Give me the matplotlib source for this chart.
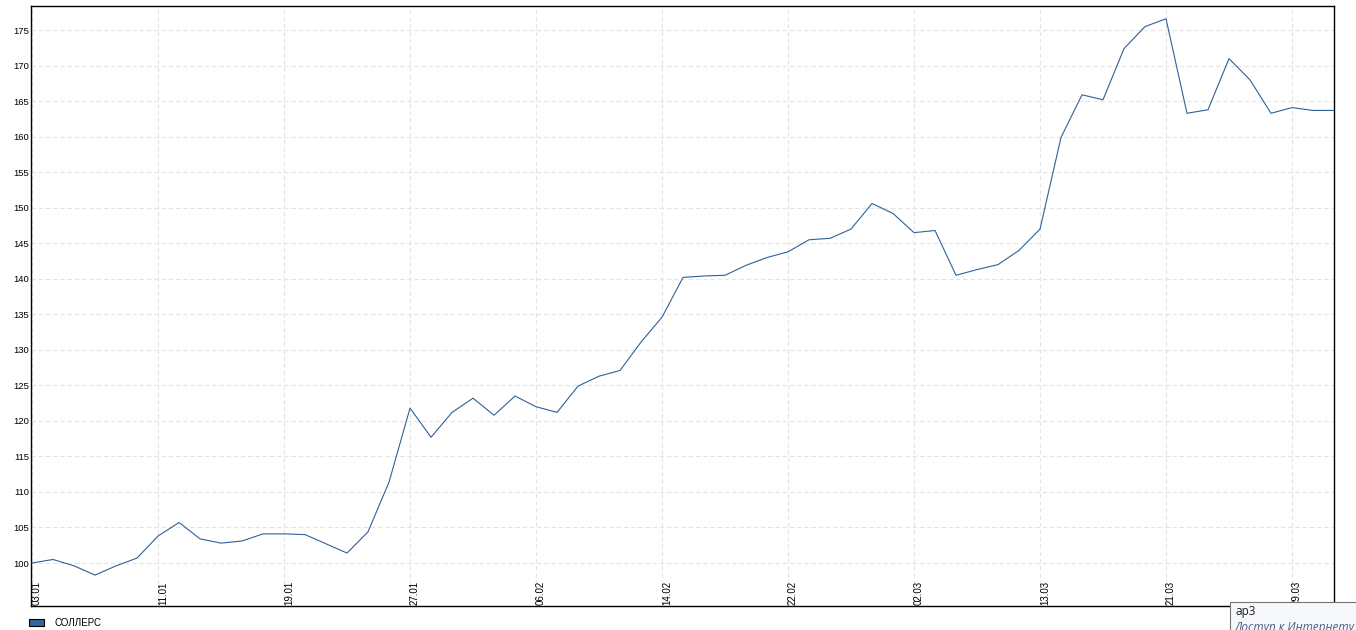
import matplotlib
matplotlib.use("Agg")
import matplotlib.pyplot as plt
import matplotlib.patches as mpatches
import numpy as np
import pandas as pd

plt.rcParams["font.family"] = ["Liberation Sans", "DejaVu Sans"]

# ----------- 1. Data -------------------
# trading days 2012 (MICEX calendar, 23.02 and 08.03 closed)
dates = pd.bdate_range("2012-01-03", "2012-04-02", freq="C",
                       holidays=["2012-02-23", "2012-03-08"])
date_labels = [d.strftime("%d.%m") for d in dates]

sollers = [
    100.0, 100.5, 99.6, 98.3, 99.6, 100.7, 103.8, 105.7, 103.4, 102.8,
    103.1, 104.1, 104.1, 104.0, 102.7, 101.4, 104.4, 111.4, 121.8, 117.7,
    121.2, 123.2, 120.8, 123.5, 122.0, 121.2, 124.9, 126.3, 127.1, 131.1,
    134.6, 140.2, 140.4, 140.5, 141.9, 143.0, 143.8, 145.5, 145.7, 147.0,
    150.6, 149.2, 146.5, 146.8, 140.5, 141.3, 142.0, 144.0, 147.0, 159.9,
    165.9, 165.2, 172.4, 175.5, 176.6, 163.3, 163.8, 171.0, 168.0, 163.3,
    164.1, 163.7, 163.7,
]
series_name = "СОЛЛЕРС"

tick_step = 6
y_ticks = list(range(100, 180, 5))

# ----------- 2. Figure -------------------
W, H = 1356, 630
fig = plt.figure(figsize=(W / 100, H / 100), dpi=100)
ax = fig.add_axes([31 / W, 24 / H, 1303 / W, 600 / H])

x = np.arange(len(sollers))
ax.plot(x, sollers, color="#2f6199", linewidth=0.8, zorder=3)

ax.set_xlim(-0.05, len(sollers) - 1)
ax.set_ylim(93.95, 178.4)

ax.set_yticks(y_ticks)
ax.tick_params(axis="y", length=0, pad=1.5, labelsize=6.8)

tick_idx = x[::tick_step]
ax.set_xticks(tick_idx, [date_labels[i] for i in tick_idx])
ax.tick_params(axis="x", length=0, pad=-0.8, labelsize=7, labelrotation=90)
for lbl in ax.get_xticklabels():
    lbl.set_verticalalignment("bottom")
    lbl.set_horizontalalignment("left")

ax.grid(True, color="#e4e4e4", linestyle=(0, (4, 2.5)), linewidth=0.8, zorder=0)
ax.set_axisbelow(True)
for sp in ax.spines.values():
    sp.set_color("black")
    sp.set_linewidth(1.0)

# ----------- 3. Legend -------------------
handle = mpatches.Patch(facecolor="#336699", edgecolor="black", linewidth=0.8,
                        label=series_name)
fig.legend(handles=[handle], loc="center left",
           bbox_to_anchor=(29 / W, 1 - 623 / H), frameon=False, fontsize=7,
           handlelength=1.5, handleheight=0.75, handletextpad=1.1,
           borderpad=0, borderaxespad=0)

# ----------- 4. Tooltip overlay (screenshot artefact) -------------------
tip = mpatches.Rectangle((1230 / W, -0.01), 0.2, (630 - 602) / H + 0.01,
                         transform=fig.transFigure, facecolor="#f7f8fb",
                         edgecolor="#767676", linewidth=0.8, zorder=5)
fig.add_artist(tip)
fig.text(1235 / W, 1 - 612 / H, "ар3", fontsize=8.5, va="center",
         color="#1e1e1e", family=["Open Sans", "DejaVu Sans"], zorder=6)
fig.text(1235 / W, 1 - 627 / H, "Доступ к Интернету", fontsize=8.5,
         va="center", style="italic", color="#4c5f80",
         family=["Open Sans", "DejaVu Sans"], zorder=6)

fig.savefig("out.png", dpi=100)
